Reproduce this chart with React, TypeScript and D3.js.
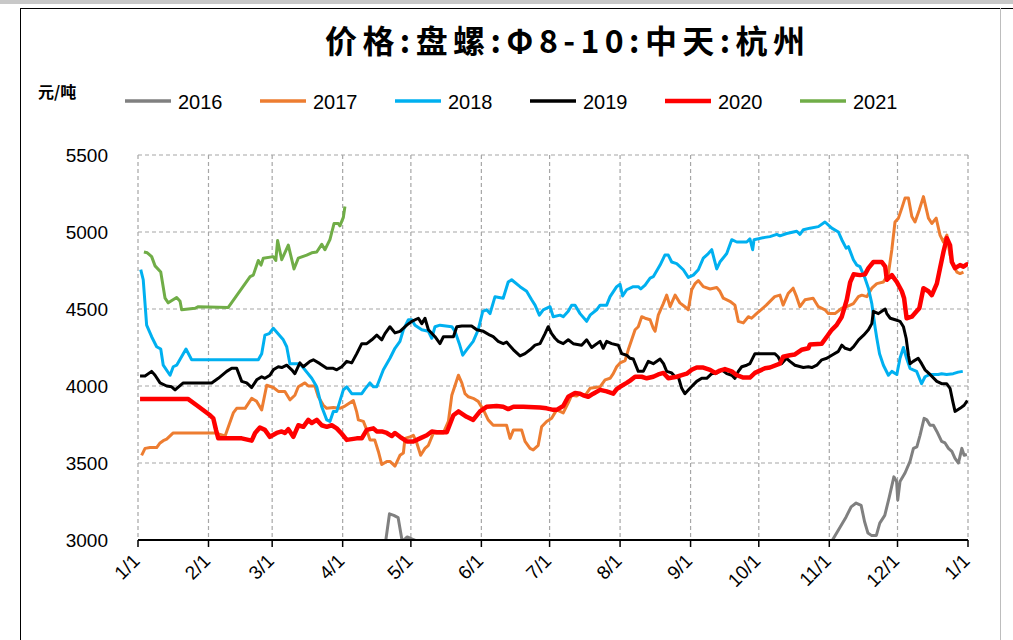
import React from 'react';
import * as d3 from 'd3';

// price series, [day of year, 元/吨]; values under 3000 get clipped by the axis
const y2016: [number, number][] = [
  [95, 2700], [108.8, 2980], [110.6, 3170], [112.5, 3160], [114.4, 3145], [116.2, 2990], [118.4, 3020],
  [120.6, 3005], [123.3, 2990], [130, 2900], [160, 2700], [200, 2620], [250, 2680], [300, 2880],
  [305.4, 3000], [308.4, 3075], [311.4, 3150], [313.6, 3215], [315.8, 3240], [318.0, 3225], [319.5, 3120],
  [321.0, 3045], [322.5, 3030], [324.7, 3030], [326.2, 3110], [328.4, 3160], [330.4, 3280], [332.4, 3410],
  [333.6, 3380], [334.1, 3260], [335.1, 3380], [337.3, 3435], [339.5, 3510], [341.0, 3595], [342.5, 3605],
  [343.9, 3680], [345.7, 3790], [346.9, 3780], [348.3, 3745], [349.8, 3745], [351.3, 3705], [353.4, 3640],
  [354.9, 3630], [356.4, 3595], [357.9, 3575], [359.3, 3530], [360.8, 3500], [362.3, 3595], [363.3, 3550],
  [364.5, 3555],
];

const y2017: [number, number][] = [
  [1.6, 3550], [3.1, 3595], [5.3, 3600], [8.2, 3600], [9.7, 3630], [11.1, 3645], [12.6, 3655], [15.5, 3695],
  [33.9, 3695], [38.3, 3675], [41.9, 3825], [43.4, 3855], [47.1, 3855], [50.0, 3920], [52.2, 3900],
  [54.4, 3845], [56.6, 4005], [59.5, 3990], [61.7, 3965], [64.6, 3965], [66.8, 3910], [69.0, 3940],
  [70.5, 3995], [73.4, 4020], [74.9, 4000], [77.8, 4000], [79.3, 3930], [81.5, 3875], [83.0, 3855],
  [85.9, 3860], [88.8, 3855], [91.0, 3870], [94.7, 3905], [96.2, 3830], [96.9, 3780], [99.1, 3770],
  [100.6, 3715], [102.0, 3650], [104.1, 3650], [105.7, 3575], [107.2, 3490], [109.4, 3510], [110.8, 3510],
  [113.0, 3480], [115.2, 3550], [116.7, 3565], [117.4, 3660], [119.6, 3670], [121.1, 3680], [122.6, 3630],
  [124.3, 3550], [126.2, 3595], [127.7, 3615], [129.2, 3670], [129.9, 3695], [134.3, 3695], [136.5, 3770],
  [138.0, 3940], [140.9, 4070], [142.4, 4020], [143.8, 3950], [145.3, 3930], [147.4, 3920], [149.6, 3900],
  [151.9, 3845], [154.0, 3780], [156.2, 3745], [162.1, 3745], [163.6, 3660], [165.1, 3715], [168.7, 3715],
  [170.2, 3640], [172.4, 3595], [173.8, 3585], [176.0, 3615], [177.5, 3735], [179.7, 3770], [181.9, 3790],
  [184.1, 3845], [187.0, 3825], [189.2, 3890], [190.7, 3940], [192.9, 3935], [194.4, 3950], [196.5, 3935],
  [198.8, 3985], [203.2, 3995], [205.4, 4040], [207.6, 4050], [209.0, 4080], [210.5, 4125], [212.0, 4150],
  [214.2, 4165], [215.6, 4235], [217.1, 4300], [218.6, 4365], [220.0, 4385], [221.5, 4450], [223.0, 4440],
  [225.2, 4430], [226.6, 4375], [227.4, 4355], [228.8, 4460], [231.0, 4535], [232.5, 4590], [234.0, 4515],
  [236.2, 4590], [238.3, 4540], [240.5, 4515], [242.0, 4495], [243.5, 4625], [245.0, 4665], [246.4, 4685],
  [248.6, 4645], [251.6, 4630], [254.5, 4640], [255.9, 4615], [257.4, 4570], [260.3, 4550], [262.5, 4525],
  [264.0, 4420], [266.2, 4410], [268.4, 4450], [269.8, 4440], [272.0, 4470], [276.3, 4525], [280.0, 4580],
  [282.3, 4590], [283.7, 4525], [285.9, 4600], [288.1, 4635], [289.6, 4580], [291.1, 4515], [293.3, 4560],
  [296.9, 4570], [299.2, 4515], [302.1, 4495], [303.6, 4470], [306.5, 4470], [309.5, 4505], [311.7, 4515],
  [314.6, 4535], [316.8, 4580], [318.3, 4590], [320.5, 4580], [322.7, 4635], [324.9, 4665], [327.8, 4675],
  [330.0, 4730], [331.5, 4885], [332.9, 5065], [334.4, 5090], [335.9, 5155], [337.3, 5220], [338.8, 5220],
  [340.3, 5100], [341.7, 5065], [343.6, 5145], [345.4, 5230], [347.6, 5090], [349.1, 5055], [351.0, 5090],
  [352.7, 4980], [354.2, 4935], [355.7, 4980], [357.1, 4850], [358.6, 4785], [360.1, 4740], [361.5, 4730],
  [363.0, 4740],
];

const y2018: [number, number][] = [
  [1.2, 4755], [2.3, 4690], [3.8, 4395], [6.0, 4320], [8.2, 4255], [10.0, 4240], [11.1, 4135], [14.1, 4070],
  [15.5, 4125], [17.0, 4135], [21.1, 4240], [23.6, 4170], [52.9, 4170], [54.4, 4210], [55.8, 4330],
  [57.7, 4340], [59.5, 4375], [63.9, 4300], [65.4, 4255], [66.8, 4145], [71.2, 4145], [76.4, 4050],
  [78.6, 3995], [80.8, 3865], [83.0, 3780], [84.4, 3770], [85.9, 3835], [87.4, 3835], [90.3, 3975],
  [91.8, 3995], [94.0, 3950], [98.4, 3950], [99.8, 3980], [102.0, 4020], [103.5, 3995], [105.0, 3995],
  [107.9, 4105], [110.8, 4180], [113.0, 4245], [115.2, 4290], [116.7, 4365], [118.9, 4430], [120.4, 4430],
  [121.8, 4395], [124.8, 4365], [127.7, 4355], [129.2, 4310], [130.6, 4385], [132.8, 4395], [138.0, 4385],
  [139.4, 4355], [141.3, 4275], [142.8, 4200], [144.5, 4235], [147.4, 4290], [149.6, 4365], [151.6, 4485],
  [153.3, 4495], [154.8, 4470], [157.0, 4580], [160.6, 4570], [162.8, 4675], [164.3, 4690], [168.0, 4645],
  [170.9, 4615], [173.1, 4560], [174.6, 4525], [176.5, 4460], [178.2, 4495], [181.2, 4515], [182.6, 4450],
  [185.6, 4460], [187.0, 4450], [189.2, 4485], [190.7, 4525], [192.2, 4525], [194.4, 4470], [197.3, 4420],
  [198.8, 4460], [201.7, 4495], [203.2, 4525], [206.1, 4525], [207.6, 4580], [210.5, 4645], [212.0, 4660],
  [213.1, 4585], [214.9, 4625], [217.8, 4645], [220.0, 4645], [221.1, 4630], [223.0, 4655], [225.2, 4700],
  [226.6, 4710], [229.6, 4785], [231.7, 4850], [233.2, 4850], [234.7, 4805], [236.9, 4795], [239.8, 4755],
  [242.0, 4705], [244.2, 4720], [246.4, 4755], [248.6, 4830], [250.8, 4860], [252.3, 4885], [254.5, 4760],
  [255.9, 4805], [258.9, 4860], [261.1, 4950], [263.3, 4935], [267.7, 4935], [269.1, 4955], [270.3, 4885],
  [270.9, 4950], [275.7, 4965], [277.9, 4970], [280.9, 4985], [282.3, 4975], [285.3, 4990], [289.7, 5005],
  [291.1, 4985], [292.6, 5015], [295.5, 5025], [299.2, 5035], [302.1, 5065], [305.1, 5025], [308.0, 5000],
  [309.5, 4950], [311.4, 4895], [312.4, 4905], [314.6, 4820], [316.1, 4785], [317.5, 4775], [319.7, 4700],
  [321.2, 4635], [322.7, 4535], [324.2, 4375], [324.9, 4310], [326.1, 4210], [327.8, 4135], [330.0, 4070],
  [331.5, 4095], [333.7, 4075], [335.1, 4180], [336.6, 4250], [338.0, 4180], [339.5, 4115], [340.9, 4105],
  [342.4, 4095], [344.6, 4015], [346.1, 4060], [348.3, 4075], [351.9, 4075], [353.4, 4080], [355.6, 4075],
  [358.5, 4080], [360.7, 4090], [362.7, 4095],
];

const y2019: [number, number][] = [
  [0.9, 4065], [3.1, 4065], [6.0, 4095], [7.5, 4070], [9.7, 4020], [12.6, 4000], [14.8, 3995], [16.3, 3975],
  [19.9, 4020], [32.4, 4020], [35.3, 4050], [39.0, 4095], [41.2, 4115], [43.4, 4115], [45.6, 4030],
  [47.8, 4020], [50.0, 3990], [52.2, 4040], [54.4, 4060], [55.8, 4050], [58.0, 4070], [59.5, 4105],
  [61.7, 4125], [63.2, 4120], [65.4, 4135], [67.6, 4105], [69.0, 4080], [71.2, 4150], [72.7, 4125],
  [75.6, 4160], [77.1, 4170], [80.0, 4145], [83.0, 4115], [85.9, 4115], [87.4, 4105], [89.6, 4125],
  [91.8, 4160], [94.0, 4150], [96.2, 4210], [98.4, 4275], [100.6, 4275], [102.8, 4300], [105.0, 4330],
  [107.2, 4300], [108.6, 4340], [110.8, 4385], [113.0, 4345], [115.2, 4355], [118.2, 4395], [120.4, 4420],
  [123.3, 4440], [124.8, 4405], [126.2, 4440], [127.7, 4365], [130.6, 4320], [132.8, 4275], [134.3, 4320],
  [138.7, 4320], [140.2, 4385], [142.4, 4390], [146.7, 4390], [149.0, 4365], [151.9, 4355], [154.8, 4330],
  [156.2, 4320], [158.4, 4290], [160.6, 4275], [162.1, 4285], [165.1, 4235], [168.0, 4195], [170.2, 4210],
  [172.4, 4235], [174.6, 4265], [176.8, 4275], [179.0, 4340], [180.4, 4385], [181.9, 4340], [183.4, 4310],
  [184.8, 4290], [187.0, 4275], [189.2, 4300], [191.4, 4275], [195.1, 4265], [197.3, 4300], [199.5, 4250],
  [203.2, 4290], [204.6, 4245], [206.1, 4290], [208.3, 4275], [211.2, 4265], [212.7, 4210], [214.9, 4200],
  [216.4, 4180], [217.8, 4175], [220.0, 4095], [222.2, 4095], [224.4, 4160], [226.6, 4145], [229.6, 4175],
  [231.1, 4145], [232.5, 4095], [234.7, 4085], [236.2, 4060], [237.6, 4060], [239.1, 3985], [240.5, 3950],
  [242.7, 3985], [245.7, 4030], [247.9, 4050], [250.1, 4050], [252.3, 4080], [254.5, 4085], [256.7, 4105],
  [258.9, 4080], [261.1, 4070], [262.5, 4050], [264.0, 4095], [265.5, 4125], [267.7, 4135], [269.1, 4145],
  [271.3, 4210], [280.0, 4210], [281.5, 4190], [283.0, 4145], [285.2, 4180], [286.7, 4160], [288.9, 4135],
  [292.6, 4120], [294.8, 4125], [296.3, 4120], [298.5, 4135], [300.7, 4170], [302.9, 4180], [305.1, 4200],
  [308.0, 4225], [309.5, 4265], [311.0, 4245], [313.2, 4235], [314.7, 4255], [316.9, 4300], [319.1, 4330],
  [321.2, 4365], [322.7, 4405], [323.4, 4485], [325.6, 4470], [327.1, 4485], [328.6, 4500], [329.3, 4470],
  [330.8, 4440], [333.0, 4430], [335.1, 4420], [336.6, 4385], [337.8, 4310], [338.8, 4200], [339.5, 4145],
  [340.9, 4160], [343.1, 4180], [344.6, 4145], [346.1, 4105], [348.3, 4075], [351.3, 4030], [353.4, 4015],
  [355.6, 4015], [357.1, 3985], [358.3, 3900], [359.3, 3835], [361.5, 3855], [363.3, 3875], [364.7, 3905],
];

const y2020: [number, number][] = [
  [0.9, 3915], [22.1, 3915], [25.8, 3875], [31.7, 3810], [33.1, 3790], [34.3, 3715], [35.3, 3660],
  [45.6, 3660], [50.0, 3645], [51.5, 3695], [53.6, 3730], [55.8, 3715], [58.0, 3670], [61.0, 3695],
  [63.2, 3705], [64.6, 3695], [66.1, 3720], [68.3, 3670], [70.5, 3745], [72.7, 3735], [74.9, 3780],
  [76.4, 3760], [78.6, 3780], [80.8, 3745], [83.0, 3735], [85.2, 3745], [87.4, 3725], [89.6, 3690],
  [91.8, 3650], [96.2, 3660], [98.4, 3660], [100.6, 3715], [103.5, 3725], [105.0, 3705], [107.2, 3705],
  [109.4, 3695], [111.6, 3675], [113.0, 3695], [115.2, 3670], [118.2, 3640], [121.1, 3640], [124.0, 3660],
  [127.0, 3680], [129.2, 3705], [131.4, 3700], [135.8, 3700], [138.7, 3810], [140.9, 3835], [144.5, 3800],
  [147.4, 3780], [150.4, 3835], [153.3, 3865], [157.7, 3870], [160.6, 3865], [162.8, 3850], [165.1, 3865],
  [169.4, 3865], [176.8, 3860], [179.7, 3855], [182.6, 3845], [184.1, 3845], [187.0, 3870], [189.2, 3930],
  [192.2, 3955], [194.4, 3950], [195.8, 3940], [198.0, 3930], [200.2, 3950], [203.2, 3975], [206.1, 3965],
  [209.0, 3950], [210.5, 3980], [212.0, 3995], [214.9, 4020], [216.4, 4035], [218.6, 4060], [221.5, 4060],
  [223.7, 4050], [226.6, 4060], [228.8, 4075], [231.1, 4085], [233.2, 4050], [236.9, 4060], [239.1, 4070],
  [241.3, 4080], [243.5, 4105], [245.7, 4120], [248.6, 4120], [251.6, 4105], [253.8, 4085], [255.9, 4100],
  [258.1, 4110], [261.1, 4095], [263.3, 4070], [266.2, 4055], [269.1, 4055], [271.3, 4085], [273.5, 4100],
  [275.7, 4115], [277.9, 4120], [282.3, 4145], [283.7, 4190], [286.7, 4200], [288.9, 4205], [291.8, 4235],
  [294.8, 4245], [295.5, 4270], [300.7, 4275], [302.9, 4320], [305.1, 4365], [307.2, 4395], [309.5, 4450],
  [311.7, 4560], [313.2, 4675], [314.7, 4725], [317.5, 4720], [319.7, 4725], [321.2, 4765], [323.4, 4805],
  [327.1, 4805], [328.6, 4775], [329.3, 4690], [331.5, 4720], [333.7, 4675], [335.9, 4615], [336.9, 4570],
  [338.0, 4440], [340.3, 4450], [342.4, 4485], [343.6, 4505], [345.4, 4635], [347.6, 4615], [349.1, 4590],
  [351.3, 4665], [352.7, 4765], [354.2, 4870], [355.7, 4960], [357.1, 4915], [357.9, 4805], [359.3, 4765],
  [361.5, 4785], [363.0, 4775], [364.5, 4790], [365, 4780],
];

const y2021: [number, number][] = [
  [2.6, 4870], [4.1, 4865], [6.0, 4840], [7.5, 4780], [10.0, 4740], [11.9, 4570], [13.3, 4540], [17.0, 4575],
  [18.5, 4550], [19.2, 4495], [25.1, 4505], [26.5, 4515], [39.7, 4510], [49.3, 4710], [50.7, 4720],
  [52.9, 4815], [54.1, 4785], [55.1, 4830], [59.5, 4840], [60.6, 4815], [61.4, 4945], [63.2, 4820],
  [66.1, 4915], [68.6, 4760], [70.5, 4830], [74.2, 4850], [76.4, 4865], [78.6, 4870], [80.8, 4920],
  [82.2, 4885], [84.4, 4950], [86.2, 5055], [88.1, 5055], [88.8, 5040], [90.3, 5095], [91.0, 5165],
];

const years = ['2016', '2017', '2018', '2019', '2020', '2021'];
const seriesData = [y2016, y2017, y2018, y2019, y2020, y2021];
const colors = ['#808080', '#ED7D31', '#00B0F0', '#000000', '#FF0000', '#70AD47'];
const widths = [3, 3, 3, 3, 4.5, 3];

const yTicks = [3000, 3500, 4000, 4500, 5000, 5500];
const title = '价格:盘螺:Φ8-10:中天:杭州';
const unit = '元/吨';

const W = 1013;
const H = 640;
const left = 138;
const right = 968;
const top = 155;
const bottom = 540;

const App = () => {
  const start = Date.UTC(2019, 0, 1);
  const end = Date.UTC(2020, 0, 1);
  const x = d3.scaleTime().domain([new Date(start), new Date(end)]).range([left, right]);
  const y = d3.scaleLinear().domain([3000, 5500]).range([bottom, top]);
  const dayToDate = (d: number) => new Date(start + d * 864e5);
  const months = d3.utcMonth.range(new Date(start), new Date(end + 1));

  const line = d3
    .line<[number, number]>()
    .x((d) => x(dayToDate(d[0])))
    .y((d) => y(d[1]));

  const axisFont = '"Liberation Sans", Arial, sans-serif';

  return (
    <div style={{ position: 'absolute', left: 0, top: 0 }}>
      <svg width={W} height={H} style={{ display: 'block', background: '#fff' }}>
        <defs>
          <clipPath id="plot">
            <rect x={left} y={top - 5} width={right - left} height={bottom - top + 5} />
          </clipPath>
        </defs>

        {/* frame */}
        <rect x={0} y={0} width={W} height={4} fill="#c8c8c8" />
        <line x1={20.5} y1={8} x2={20.5} y2={H} stroke="#000" strokeWidth={1} />
        <line x1={20} y1={8.5} x2={W} y2={8.5} stroke="#000" strokeWidth={1} />
        <line x1={1000.5} y1={8} x2={1000.5} y2={H} stroke="#bdbdbd" strokeWidth={1} />

        <text
          x={325}
          y={53}
          textLength={480}
          lengthAdjust="spacing"
          fontFamily='"Noto Sans CJK SC", sans-serif'
          fontWeight="bold"
          fontSize={32}
        >
          {title}
        </text>

        <text x={38} y={98} fontFamily='"Noto Sans CJK SC", sans-serif' fontWeight="bold" fontSize={16}>
          {unit}
        </text>

        {/* legend */}
        {years.map((yr, i) => (
          <g key={yr} transform={`translate(${125 + i * 135},101)`}>
            <line x1={0} x2={46} y1={0} y2={0} stroke={colors[i]} strokeWidth={i === 4 ? 4.5 : 3.5} />
            <text x={53} y={7.5} fontFamily={axisFont} fontSize={20} fill="#000">
              {yr}
            </text>
          </g>
        ))}

        {/* grid */}
        {yTicks.slice(1).map((t) => (
          <line key={t} x1={left} x2={right} y1={y(t)} y2={y(t)} stroke="#a6a6a6" strokeWidth={1.2} strokeDasharray="4,3" />
        ))}
        {months.map((m) => (
          <line
            key={m.getTime()}
            x1={x(m)}
            x2={x(m)}
            y1={top}
            y2={bottom}
            stroke="#a6a6a6"
            strokeWidth={1.2}
            strokeDasharray="4,3"
          />
        ))}

        {/* y labels */}
        {yTicks.map((t) => (
          <text key={t} x={108} y={y(t) + 7} textAnchor="end" fontFamily={axisFont} fontSize={19} fill="#000">
            {t}
          </text>
        ))}

        {/* series */}
        <g clipPath="url(#plot)">
          {seriesData.map((s, i) => (
            <path
              key={years[i]}
              d={line(s) ?? ''}
              fill="none"
              stroke={colors[i]}
              strokeWidth={widths[i]}
              strokeLinejoin="round"
            />
          ))}
        </g>

        {/* x axis */}
        <line x1={left} x2={right} y1={bottom} y2={bottom} stroke="#000" strokeWidth={2} />
        {months.map((m) => (
          <g key={m.getTime()}>
            <line x1={x(m)} x2={x(m)} y1={bottom} y2={bottom + 7} stroke="#000" strokeWidth={1.5} />
            <text
              transform={`translate(${x(m) + 3},${bottom + 22}) rotate(-45)`}
              textAnchor="end"
              fontFamily={axisFont}
              fontSize={19}
              fill="#000"
            >
              {`${m.getUTCMonth() + 1}/1`}
            </text>
          </g>
        ))}
      </svg>
    </div>
  );
};

export default App;
